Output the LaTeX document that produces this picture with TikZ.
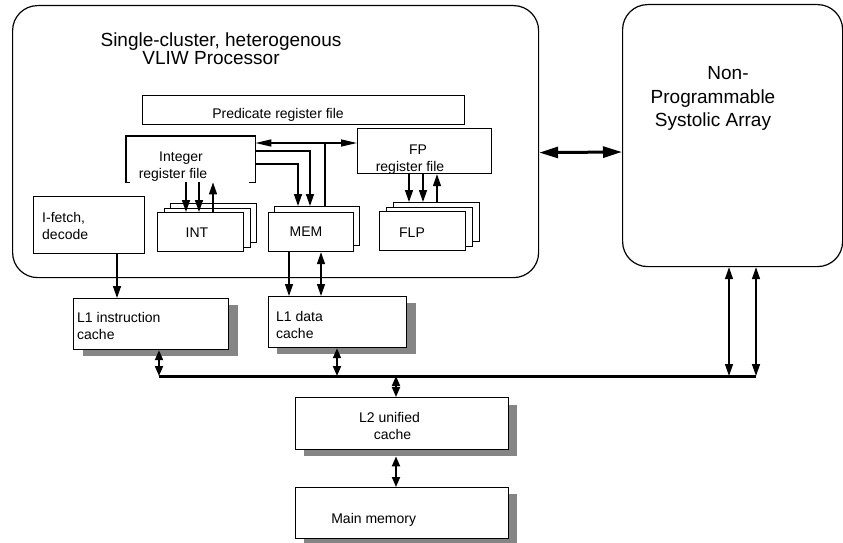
\documentclass[tikz,border=0pt]{standalone}
\usepackage{fontspec}
\setmainfont{Liberation Sans}
\usetikzlibrary{arrows.meta}
\begin{document}
\begin{tikzpicture}[x=1pt,y=-1pt,
  boxline/.style={line width=1.2pt},
  box/.style={draw, line width=1.2pt, fill=white, rectangle, inner sep=0pt, anchor=north west},
  shadowbox/.style={fill=black!48, draw=none, rectangle, inner sep=0pt, anchor=north west},
  bigbox/.style={draw, line width=1.2pt, rectangle, rounded corners=25pt, inner sep=0pt, anchor=north west},
  txt/.style={inner sep=0pt, font=\fontsize{14}{17}\selectfont},
  bigtxt/.style={inner sep=0pt, font=\fontsize{19}{18}\selectfont},
  systxt/.style={inner sep=0pt, font=\fontsize{19}{23.5}\selectfont},
  plain/.style={line width=1.4pt},
  arr/.style={line width=1.4pt, -{Triangle[length=12pt,width=8pt]}},
  darr/.style={line width=1.4pt, {Triangle[length=12pt,width=8pt]}-{Triangle[length=12pt,width=8pt]}},
  shortdarr/.style={line width=1.8pt, {Triangle[length=10pt,width=8pt]}-{Triangle[length=10pt,width=8pt]}},
  longdarr/.style={line width=1.4pt, {Triangle[length=16pt,width=7pt]}-{Triangle[length=16pt,width=7pt]}},
  thickdarr/.style={line width=3pt, {Triangle[length=19pt,width=11pt]}-{Triangle[length=19pt,width=11pt]}},
  bus/.style={line width=3pt}
]
\useasboundingbox (0,0) rectangle (843,543);

% big rounded boxes
\node[bigbox, minimum width=526pt, minimum height=272pt] (vliw) at (12,5) {};
\node[bigbox, minimum width=220pt, minimum height=262pt] (sys) at (622,4) {};
\node[bigtxt, align=center] (vliwT) at (221,49) {Single-cluster, heterogenous\\\hspace*{-20pt}VLIW Processor};
\node[systxt, align=center] (sysT) at (713,98.7) {\hspace*{30pt}Non-\\Programmable\\Systolic Array};

% register files
\node[box, minimum width=322pt, minimum height=29pt] (pred) at (142,95) {};
\node[txt, anchor=base] (predT) at (278,118) {Predicate register file};
\node[rectangle, inner sep=0pt, anchor=north west, minimum width=129pt, minimum height=46pt] (intrf) at (126,136) {};
\draw[boxline] ([xshift=4pt]intrf.south west) -- (intrf.south west) -- (intrf.north west) -- (intrf.north east) -- (intrf.south east) -- ([xshift=-6pt]intrf.south east);
\node[txt, align=center] (intrfT) at (173,167) {\hspace*{16pt}Integer\\register file};
\node[box, minimum width=134pt, minimum height=45pt] (fprf) at (357,128) {};
\node[txt, align=center] (fprfT) at (410,160) {\hspace*{16pt}FP\\register file};

% functional unit stacks
\node[box, minimum width=86pt, minimum height=39pt] (int3) at (170,203) {};
\node[box, minimum width=86pt, minimum height=39pt] (int2) at (163.5,207.5) {};
\node[box, minimum width=86pt, minimum height=39pt] (int1) at (157,212) {};
\node[txt, anchor=base] (intT) at (197,237) {INT};
\node[box, minimum width=85pt, minimum height=39pt] (mem2) at (274,206) {};
\node[box, minimum width=85pt, minimum height=39pt] (mem1) at (268,212) {};
\node[txt, anchor=base] (memT) at (306,236.5) {MEM};
\node[box, minimum width=86pt, minimum height=39pt] (flp3) at (393,202) {};
\node[box, minimum width=86pt, minimum height=39pt] (flp2) at (386,206.5) {};
\node[box, minimum width=86pt, minimum height=39pt] (flp1) at (379,211) {};
\node[txt, anchor=base] (flpT) at (412,237) {FLP};

% I-fetch
\node[box, minimum width=111pt, minimum height=57pt] (ifetch) at (33,196) {};
\node[txt, align=left, anchor=west] (ifetchT) at (42,226) {I-fetch,\\decode};

% caches and memory
\node[shadowbox, minimum width=155pt, minimum height=51pt] (l1ish) at (83,305) {};
\node[box, minimum width=155pt, minimum height=51pt] (l1i) at (73,298) {};
\node[txt, align=left, anchor=west] (l1iT) at (77,325.5) {L1 instruction\\cache};
\node[shadowbox, minimum width=139pt, minimum height=51pt] (l1dsh) at (277,303) {};
\node[box, minimum width=138pt, minimum height=51pt] (l1d) at (268,296) {};
\node[txt, align=left, anchor=west] (l1dT) at (276,324.5) {L1 data\\cache};
\node[shadowbox, minimum width=213pt, minimum height=51pt] (l2sh) at (304,405) {};
\node[box, minimum width=213pt, minimum height=52pt] (l2) at (295,397) {};
\node[txt, align=center] (l2T) at (389.5,425.5) {L2 unified\\\hspace*{6pt}cache};
\node[shadowbox, minimum width=213pt, minimum height=51pt] (mainsh) at (304,494) {};
\node[box, minimum width=213pt, minimum height=51pt] (mainm) at (295,487) {};
\node[txt, anchor=base] (mainT) at (373.7,523.3) {Main memory};

% bus
\coordinate (busL) at (159,376);
\coordinate (busR) at (756,376);
\draw[bus] (busL) -- (busR);

% connectors
\draw[thickdarr] ([yshift=-11pt]vliw.east) -- (sys.west |- {0,152});
\draw[longdarr] (intrf.east |- {0,143}) -- (fprf.west |- {0,143});
\draw[arr] (intrf.east |- {0,151}) -| ({310,0} |- mem2.north);
\draw[arr] (intrf.east |- {0,164}) -| ({298,0} |- mem2.north);
\draw[plain] ({325,0} |- mem2.north) -- (325,143);

\draw[arr] ({186,0} |- intrf.south) -- ({186,0} |- int1.north);
\draw[arr] ({199,0} |- intrf.south) -- ({199,0} |- int1.north);
\draw[arr] ({213,0} |- int1.north) -- ({213,0} |- intrf.south);

\draw[arr] ({409,0} |- fprf.south) -- ({409,0} |- flp3.north);
\draw[arr] ({423,0} |- fprf.south) -- ({423,0} |- flp3.north);
\draw[arr] ({437,0} |- flp3.north) -- ({437,0} |- fprf.south);

\draw[arr] ({117,0} |- ifetch.south) -- ({117,0} |- l1i.north);
\draw[arr] ({289,0} |- mem1.south) -- ({289,0} |- l1d.north);
\draw[darr] ({321,0} |- mem1.south) -- ({321,0} |- l1d.north);

\draw[shortdarr] (busL |- l1i.south) -- (busL);
\draw[shortdarr] ({337,0} |- l1d.south) -- ({337,0} |- busL);
\draw[shortdarr] ({396,0} |- busL) -- ({396,0} |- l2.north);
\draw[shortdarr] ({396,0} |- l2sh.south) -- ({396,0} |- mainm.north);

\draw[darr] ({729,0} |- sys.south) -- ({729,0} |- busL);
\draw[darr] (busR |- sys.south) -- (busR);
\end{tikzpicture}
\end{document}
